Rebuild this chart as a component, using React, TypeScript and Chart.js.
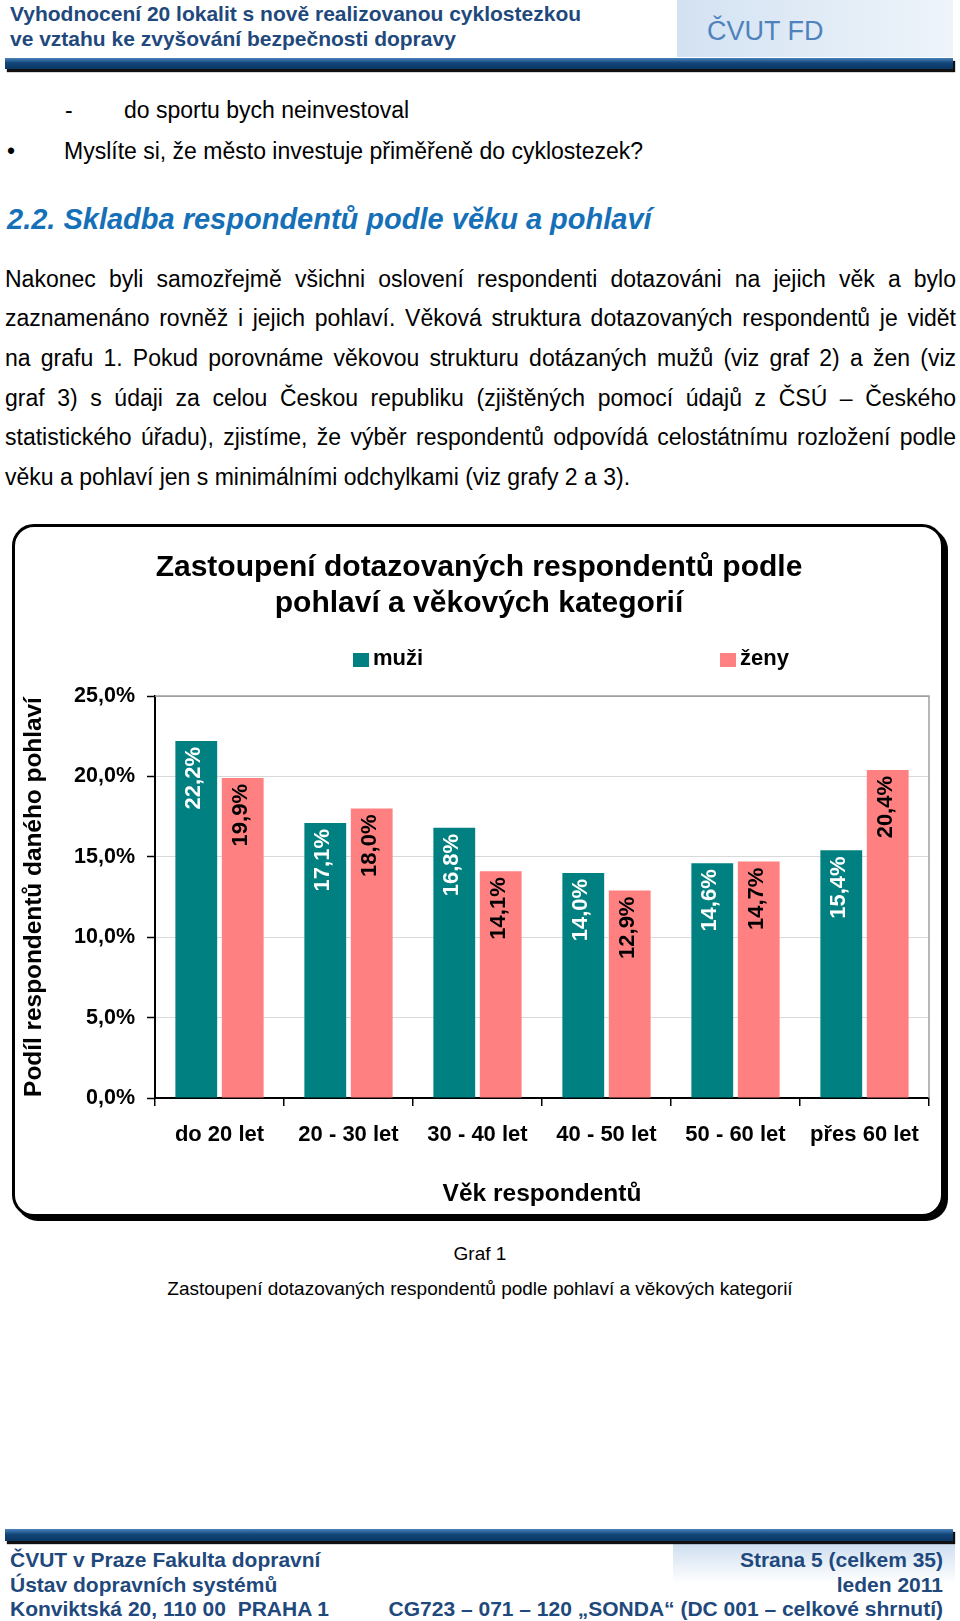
import React, { useEffect, useRef } from 'react';
import { Chart, registerables } from 'chart.js';

Chart.register(...registerables);

// ---------- data ----------
const categories = ['do 20 let', '20 - 30 let', '30 - 40 let', '40 - 50 let', '50 - 60 let', 'přes 60 let'];
const muzi = [22.2, 17.1, 16.8, 14.0, 14.6, 15.4];
const zeny = [19.9, 18.0, 14.1, 12.9, 14.7, 20.4];
const seriesNames = ['muži', 'ženy'];
const yTickValues = [0, 5, 10, 15, 20, 25];
const chartTitle = ['Zastoupení dotazovaných respondentů podle', 'pohlaví a věkových kategorií'];
const yTitle = 'Podíl respondentů daného pohlaví';
const xTitle = 'Věk respondentů';

// ---------- styles ----------
const FONT = "'Liberation Sans', Arial, Helvetica, sans-serif";
const seriesColors = ['#008080', '#FF8080'];
const labelColors = ['#FFFFFF', '#000000'];
const legendFrac = [0.2558, 0.7300];

const fmt = (v: number) => v.toFixed(1).replace('.', ',') + '%';

const framePlugin = {
  id: 'plotFrame',
  beforeDatasetsDraw(chart: any) {
    const { ctx, chartArea } = chart;
    ctx.save();
    ctx.strokeStyle = '#a0a0a0';
    ctx.lineWidth = 1.5;
    ctx.beginPath();
    ctx.moveTo(chartArea.left, chartArea.top);
    ctx.lineTo(chartArea.right, chartArea.top);
    ctx.lineTo(chartArea.right, chartArea.bottom);
    ctx.stroke();
    ctx.restore();
  },
};

const barLabelPlugin = {
  id: 'barLabels',
  afterDatasetsDraw(chart: any) {
    const ctx = chart.ctx;
    ctx.save();
    ctx.font = `bold 22px ${FONT}`;
    chart.data.datasets.forEach((ds: any, di: number) => {
      const meta = chart.getDatasetMeta(di);
      meta.data.forEach((bar: any, i: number) => {
        const v = ds.data[i];
        ctx.save();
        ctx.translate(bar.x - 2, bar.y + 6);
        ctx.rotate(-Math.PI / 2);
        ctx.textAlign = 'right';
        ctx.textBaseline = 'middle';
        ctx.fillStyle = labelColors[di];
        ctx.fillText(fmt(v), 0, 0);
        ctx.restore();
      });
    });
    ctx.restore();
  },
};

const legendPlugin = {
  id: 'spreadLegend',
  afterDraw(chart: any) {
    const { ctx, chartArea } = chart;
    const w = chartArea.right - chartArea.left;
    ctx.save();
    ctx.font = `bold 22px ${FONT}`;
    ctx.textAlign = 'left';
    ctx.textBaseline = 'middle';
    chart.data.datasets.forEach((ds: any, i: number) => {
      const x = chartArea.left + legendFrac[i] * w;
      const y = chartArea.top - 36.5;
      ctx.fillStyle = ds.backgroundColor;
      ctx.fillRect(x, y - 6.5, 16, 14);
      ctx.fillStyle = '#000';
      ctx.fillText(ds.label, x + 20, y - 0.5);
    });
    ctx.restore();
  },
};

function BarChart() {
  const ref = useRef<HTMLCanvasElement | null>(null);
  useEffect(() => {
    if (!ref.current) return;
    const chart = new Chart(ref.current, {
      type: 'bar',
      data: {
        labels: categories,
        datasets: [
          { label: seriesNames[0], data: muzi, backgroundColor: seriesColors[0], categoryPercentage: 0.72, barPercentage: 0.9 },
          { label: seriesNames[1], data: zeny, backgroundColor: seriesColors[1], categoryPercentage: 0.72, barPercentage: 0.9 },
        ],
      },
      options: {
        responsive: true,
        maintainAspectRatio: false,
        animation: false,
        layout: { padding: { left: 13, right: 10, top: 0, bottom: 0 } },
        plugins: {
          legend: { display: false },
          tooltip: { enabled: false },
          title: {
            display: true,
            text: chartTitle,
            color: '#000',
            font: { family: FONT, size: 30, weight: 'bold', lineHeight: 1.22 },
            padding: { top: 21, bottom: 73.8 },
          },
        },
        scales: {
          x: {
            grid: { display: true, drawOnChartArea: false, drawTicks: true, tickLength: 8, color: '#000', lineWidth: 1.5, offset: true },
            border: { display: true, color: '#000', width: 2 },
            ticks: { color: '#000', font: { family: FONT, size: 22, weight: 'bold' }, padding: 16, maxRotation: 0, autoSkip: false },
            title: { display: true, text: xTitle, color: '#000', font: { family: FONT, size: 24.5, weight: 'bold' }, padding: { top: 0, bottom: 5.1 } },
            afterFit: (s: any) => { s.height = 116; },
          },
          y: {
            min: 0,
            max: 25,
            afterBuildTicks: (s: any) => { s.ticks = yTickValues.map((v) => ({ value: v })); },
            grid: {
              color: (c: any) => (c.tick && c.tick.value === 25 ? '#a0a0a0' : '#d9d9d9'),
              tickColor: '#000',
              tickLength: 8,
              tickWidth: 1.5,
              drawTicks: true,
              lineWidth: 1,
            },
            border: { display: true, color: '#000', width: 2 },
            ticks: { color: '#000', font: { family: FONT, size: 21.5, weight: 'bold' }, padding: 12, callback: (v: any) => fmt(Number(v)) },
            title: { display: true, text: yTitle, color: '#000', font: { family: FONT, size: 24.4, weight: 'bold' }, padding: { top: -9.4, bottom: 0 } },
            afterFit: (s: any) => { s.width = 126; },
          },
        },
      } as any,
      plugins: [framePlugin, barLabelPlugin, legendPlugin],
    });
    return () => chart.destroy();
  }, []);
  return <canvas ref={ref} style={{ display: 'block' }} />;
}

const para = [
  'Nakonec byli samozřejmě všichni oslovení respondenti dotazováni na jejich věk a bylo',
  'zaznamenáno rovněž i jejich pohlaví. Věková struktura dotazovaných respondentů je vidět',
  'na grafu 1. Pokud porovnáme věkovou strukturu dotázaných mužů (viz graf 2) a žen (viz',
  'graf 3) s údaji za celou Českou republiku (zjištěných pomocí údajů z ČSÚ – Českého',
  'statistického úřadu), zjistíme, že výběr respondentů odpovídá celostátnímu rozložení podle',
  'věku a pohlaví jen s minimálními odchylkami (viz grafy 2 a 3).',
];

const abs = (o: React.CSSProperties): React.CSSProperties => ({ position: 'absolute', ...o });

export default function App() {
  const blue = '#1f497d';
  return (
    <div style={abs({ left: 0, top: 0, width: 960, height: 1621, background: '#fff', overflow: 'hidden', fontFamily: FONT, color: '#000' })}>
      {/* header */}
      <div style={abs({ left: 677, top: 0, width: 276, height: 57, background: 'linear-gradient(to right, #d3e2f2, #eef4fa)' })} />
      <div style={abs({ left: 10, top: 2.3, font: `bold 21px/24.5px ${FONT}`, color: blue, whiteSpace: 'nowrap' })}>
        Vyhodnocení 20 lokalit s nově realizovanou cyklostezkou<br />ve vztahu ke zvyšování bezpečnosti dopravy
      </div>
      <div style={abs({ left: 707, top: 15, font: `27px/32px ${FONT}`, color: '#4f82bd', whiteSpace: 'nowrap' })}>ČVUT FD</div>
      <div style={abs({ left: 5, top: 58, width: 948, height: 11, background: 'linear-gradient(to bottom, #4a82bb, #124679 45%, #0b3562)', boxShadow: '2px 3px 1px #111' })} />

      {/* body text */}
      <div style={abs({ left: 65, top: 94.5, font: `23px/30px ${FONT}` })}>-</div>
      <div style={abs({ left: 124, top: 94.5, font: `23px/30px ${FONT}`, whiteSpace: 'nowrap' })}>do sportu bych neinvestoval</div>
      <div style={abs({ left: 7, top: 136, font: `23px/30px ${FONT}` })}>•</div>
      <div style={abs({ left: 64, top: 136, font: `23px/30px ${FONT}`, whiteSpace: 'nowrap' })}>Myslíte si, že město investuje přiměřeně do cyklostezek?</div>
      <div style={abs({ left: 7, top: 201, font: `italic bold 29px/36px ${FONT}`, color: '#1570b8', whiteSpace: 'nowrap' })}>
        2.2. Skladba respondentů podle věku a pohlaví
      </div>
      <div style={abs({ left: 5, top: 259.5, width: 951, font: `23px/39.7px ${FONT}` })}>
        {para.map((line, i) => (
          <div key={i} style={{ textAlign: 'justify', textAlignLast: i < para.length - 1 ? 'justify' : 'left' } as any}>{line}</div>
        ))}
      </div>

      {/* chart box */}
      <div style={abs({ left: 12, top: 524, width: 926, height: 687, border: '3px solid #000', borderRadius: 22, boxShadow: '4px 4px 0 #000', background: '#fff' })} />
      <div style={abs({ left: 16, top: 528, width: 923, height: 686 })}>
        <BarChart />
      </div>

      {/* caption */}
      <div style={abs({ left: 0, top: 1240, width: 960, textAlign: 'center', font: `19px/28px ${FONT}` })}>Graf 1</div>
      <div style={abs({ left: 0, top: 1274.5, width: 960, textAlign: 'center', font: `19px/28px ${FONT}` })}>
        Zastoupení dotazovaných respondentů podle pohlaví a věkových kategorií
      </div>

      {/* footer */}
      <div style={abs({ left: 673, top: 1541, width: 282, height: 42, background: 'linear-gradient(to bottom, #cbdcef, #ffffff)' })} />
      <div style={abs({ left: 5, top: 1528.5, width: 948, height: 12, background: 'linear-gradient(to bottom, #4a82bb, #124679 45%, #0b3562)', boxShadow: '2px 3px 1px #111' })} />
      <div style={abs({ left: 10, top: 1548.3, font: `bold 21px/24.3px ${FONT}`, color: blue, whiteSpace: 'nowrap' })}>
        ČVUT v Praze Fakulta dopravní<br />Ústav dopravních systémů<br />Konviktská 20, 110 00&nbsp; PRAHA 1
      </div>
      <div style={abs({ right: 17, top: 1548.3, font: `bold 21px/24.3px ${FONT}`, color: blue, whiteSpace: 'nowrap', textAlign: 'right' })}>
        Strana 5 (celkem 35)<br />leden 2011<br />CG723 – 071 – 120 „SONDA“ (DC 001 – celkové shrnutí)
      </div>
    </div>
  );
}
